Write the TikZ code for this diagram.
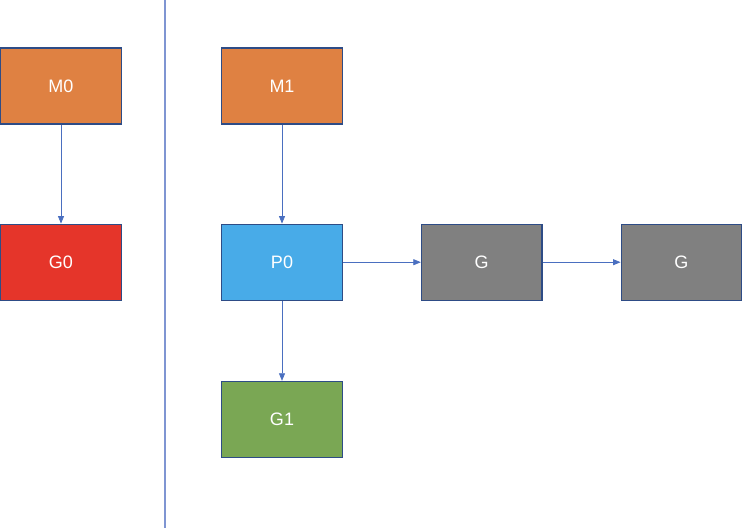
\documentclass[tikz,border=0pt]{standalone}
\usepackage{fontspec}
\setmainfont{Liberation Sans}
\usetikzlibrary{arrows.meta, positioning}
\definecolor{gmorange}{HTML}{DF8142}
\definecolor{gmred}{HTML}{E5352A}
\definecolor{gmblue}{HTML}{48ABE8}
\definecolor{gmgray}{HTML}{808080}
\definecolor{gmgreen}{HTML}{7AA754}
\definecolor{gmedge}{HTML}{2E4C86}
\definecolor{gmline}{HTML}{4A6FC0}
\definecolor{gmdivider}{HTML}{7F95D2}
\tikzset{
  box/.style={rectangle, draw=gmedge, line width=1.2pt, text=white,
              font=\fontsize{18}{20}\selectfont, minimum width=120.5pt,
              minimum height=76pt, inner sep=0pt},
  link/.style={-{Triangle[length=7.5pt, width=6pt]}, draw=gmline, line width=0.7pt},
}
\begin{document}
\begin{tikzpicture}[x=1pt, y=-1pt, node distance=78pt]
      \useasboundingbox (0,0) rectangle (746,528);
      \node[box, fill=gmorange] (m0) at (61,86) {M0};
      \node[box, fill=gmred, below=99pt of m0] (g0) {G0};
      \node[box, fill=gmorange] (m1) at (282,86) {M1};
      \node[box, fill=gmblue, below=99pt of m1] (p0) {P0};
      \node[box, fill=gmgray, right=of p0] (ga) {G};
      \node[box, fill=gmgray, right=of ga] (gb) {G};
      \node[box, fill=gmgreen, below=80pt of p0] (g1) {G1};
      \coordinate (divtop) at (165,0);
      \coordinate (divbot) at (165,528);
      \draw[draw=gmdivider, line width=1.2pt] (divtop) -- (divbot);
      \draw[link] (m0) -- (g0);
      \draw[link] (m1) -- (p0);
      \draw[link] (p0) -- (ga);
      \draw[link] (ga) -- (gb);
      \draw[link] (p0) -- (g1);
    \end{tikzpicture}
\end{document}
